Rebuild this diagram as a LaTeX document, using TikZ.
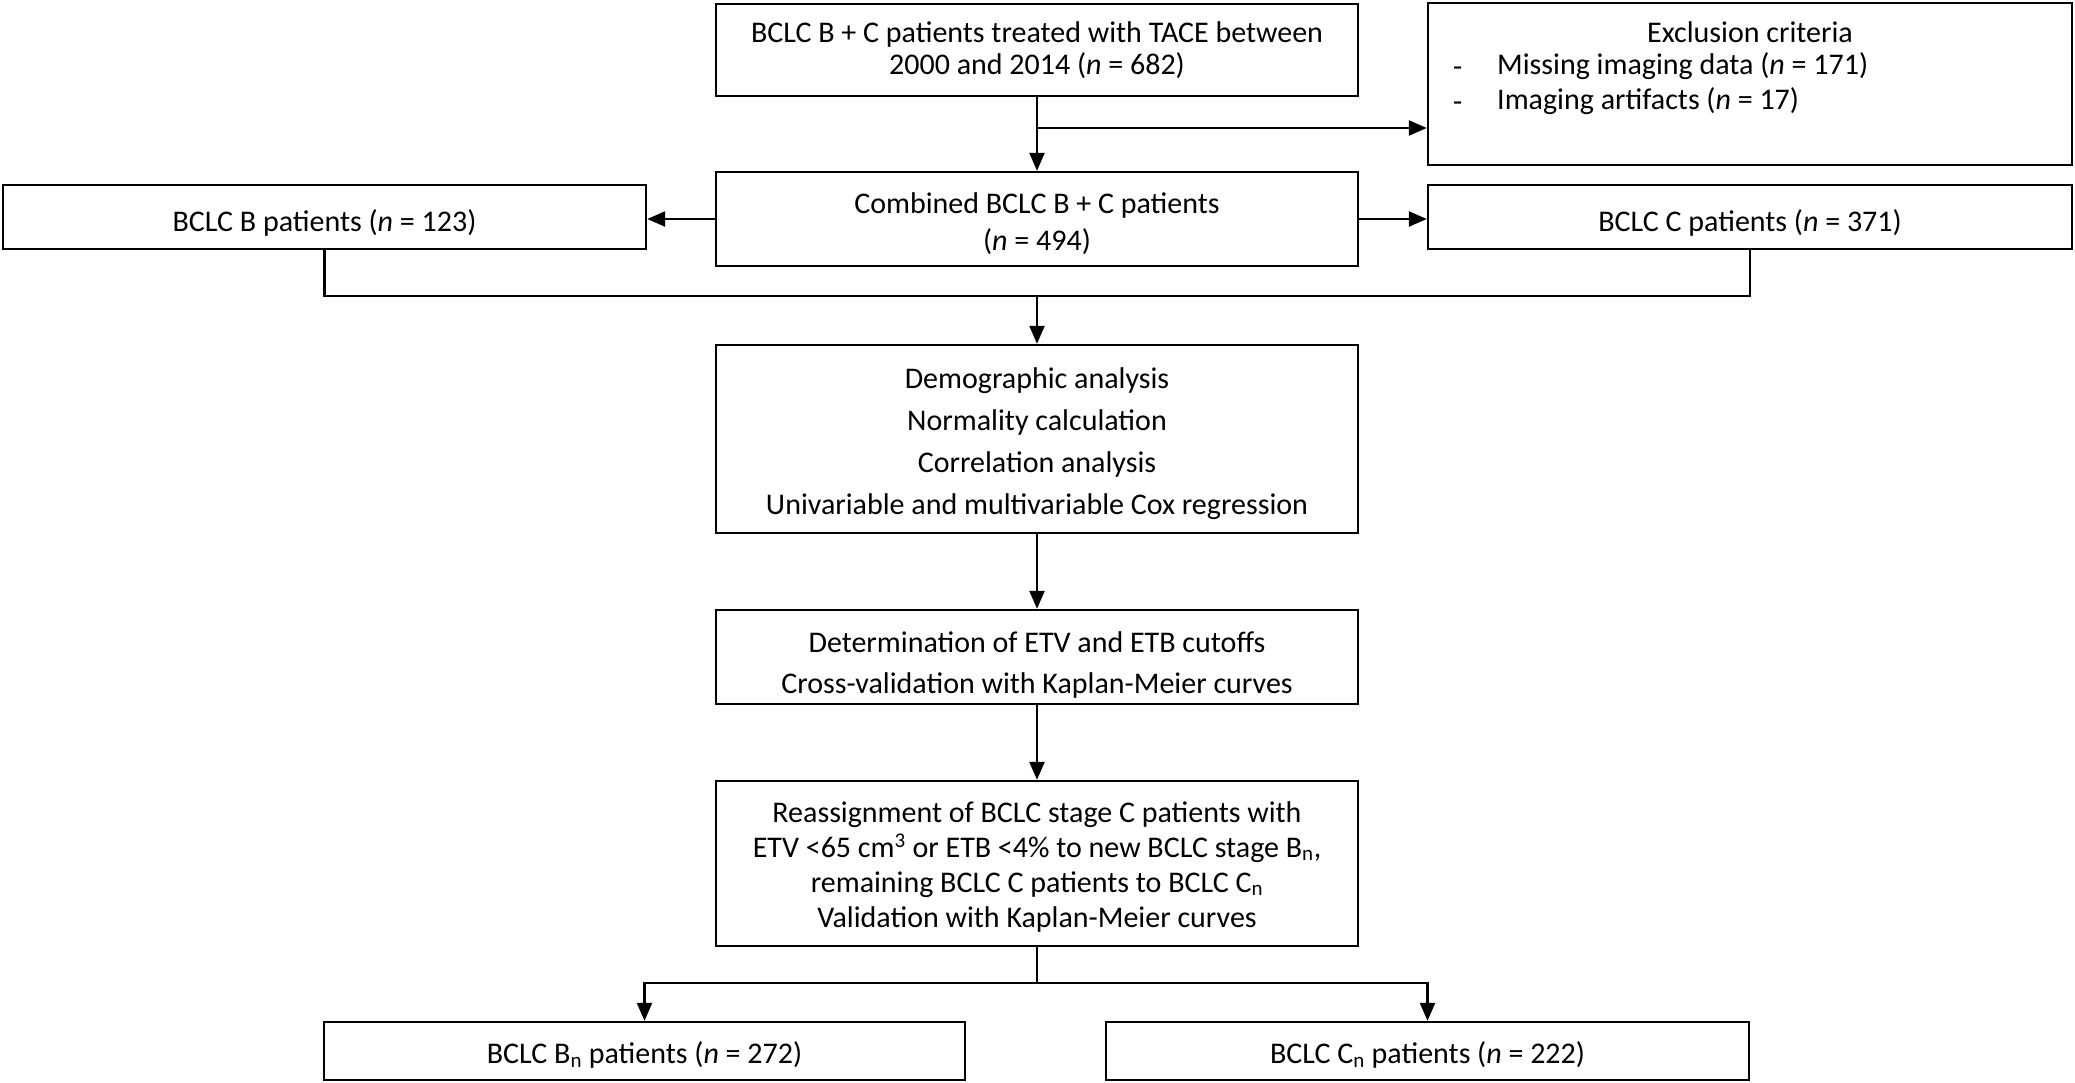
\documentclass[tikz,border=0pt]{standalone}
\usepackage{fontspec}
\setmainfont{Carlito}
\usetikzlibrary{arrows.meta}
\begin{document}
\begin{tikzpicture}[x=1pt,y=-1pt,
 box/.style={draw, line width=2.4pt, rectangle, inner sep=0pt},
 conn/.style={line width=2.4pt},
 arr/.style={conn, -{Triangle[length=18pt,width=15pt]}},
 txt/.style={inner sep=0pt, align=center, font=\fontsize{30}{32}\selectfont}]
\useasboundingbox (0,0) rectangle (2075,1082);
% boxes
\node[box, minimum width=642pt, minimum height=92pt] (top) at (1037,50) {};
\node[box, minimum width=644pt, minimum height=162pt] (excl) at (1750,84) {};
\node[box, minimum width=642pt, minimum height=94pt] (comb) at (1037,219) {};
\node[box, minimum width=643pt, minimum height=64pt] (bB) at (324.5,217) {};
\node[box, minimum width=644pt, minimum height=64pt] (bC) at (1750,217) {};
\node[box, minimum width=642pt, minimum height=188pt] (ana) at (1037,439) {};
\node[box, minimum width=642pt, minimum height=94pt] (cut) at (1037,657) {};
\node[box, minimum width=642pt, minimum height=165pt] (re) at (1037,863.5) {};
\node[box, minimum width=641pt, minimum height=58pt] (bn) at (644.5,1051) {};
\node[box, minimum width=643pt, minimum height=58pt] (cn) at (1427.5,1051) {};
% texts
\node[txt] (topt) at (top.center) {BCLC B + C patients treated with TACE between\\2000 and 2014 (\textit{n} = 682)};
\node[txt] (exh) at (1750,32) {Exclusion criteria};
\node[txt, anchor=west] (exd1) at (1453,72) {-};
\node[txt, anchor=west] (exi1) at (1497,66) {Missing imaging data (\textit{n} = 171)};
\node[txt, anchor=west] (exd2) at (1453,107) {-};
\node[txt, anchor=west] (exi2) at (1497,101) {Imaging artifacts (\textit{n} = 17)};
\node[txt, font=\fontsize{30}{37}\selectfont] (combt) at ([yshift=-5pt]comb.center) {Combined BCLC B + C patients\\(\textit{n} = 494)};
\node[txt] (bBt) at ([yshift=-6pt]bB.center) {BCLC B patients (\textit{n} = 123)};
\node[txt] (bCt) at ([yshift=-6pt]bC.center) {BCLC C patients (\textit{n} = 371)};
\node[txt, font=\fontsize{30}{42}\selectfont] (anat) at ([yshift=-5pt]ana.center)
  {Demographic analysis\\Normality calculation\\Correlation analysis\\Univariable and multivariable Cox regression};
\node[txt, font=\fontsize{30}{41}\selectfont] (cutt) at ([yshift=-8pt]cut.center)
  {Determination of ETV and ETB cutoffs\\Cross-validation with Kaplan-Meier curves};
\node[txt, font=\fontsize{30}{35}\selectfont] (ret) at ([yshift=-3pt]re.center)
  {Reassignment of BCLC stage C patients with\\ETV <65 cm\textsuperscript{3} or ETB <4\% to new BCLC stage B\textsubscript{n},\\remaining BCLC C patients to BCLC C\textsubscript{n}\\Validation with Kaplan-Meier curves};
\node[txt] (bnt) at ([yshift=-4pt]bn.center) {BCLC B\textsubscript{n} patients (\textit{n} = 272)};
\node[txt] (cnt) at ([yshift=-4pt]cn.center) {BCLC C\textsubscript{n} patients (\textit{n} = 222)};
% connectors
\coordinate (j1) at (1037,128);
\coordinate (j2) at (1037,296);
\coordinate (j3) at (1037,983);
\draw[arr] (top.south) -- (comb.north);
\draw[arr] (j1) -- (j1 -| excl.west);
\draw[arr] (comb.west) -- (comb.west -| bB.east);
\draw[arr] (comb.east) -- (comb.east -| bC.west);
\draw[conn] (bB.south) |- (j2) -| (bC.south);
\draw[arr] (j2) -- (ana.north);
\draw[arr] (ana.south) -- (cut.north);
\draw[arr] (cut.south) -- (re.north);
\draw[conn] (re.south) -- (j3);
\draw[arr] (j3) -| (bn.north);
\draw[arr] (j3) -| (cn.north);
\end{tikzpicture}
\end{document}
